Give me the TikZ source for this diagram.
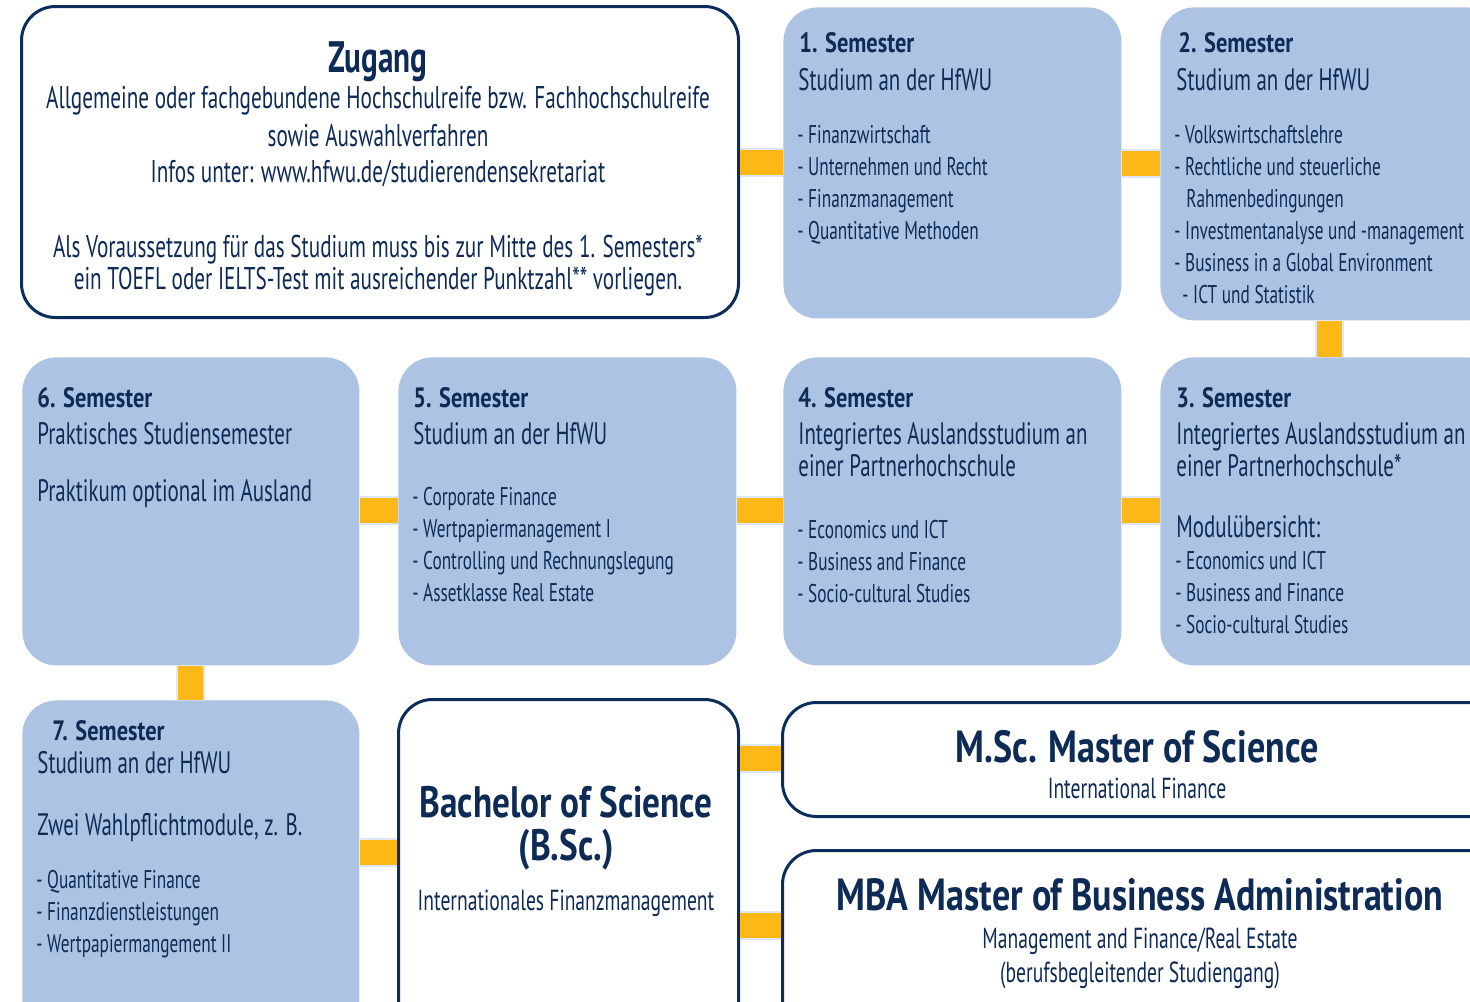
\documentclass[tikz,border=0pt]{standalone}
\usepackage{fontspec}
\newfontfamily\cf{PT Sans}[FakeStretch=0.675]
\newfontfamily\cfb{PT Sans Bold}[FakeStretch=0.80]
\newfontfamily\cfz{PT Sans Bold}[FakeStretch=0.71]
\definecolor{navy}{HTML}{0E2B56}
\definecolor{edge}{HTML}{0A2D5C}
\definecolor{boxfill}{HTML}{ADC3E3}
\definecolor{yel}{HTML}{FBB817}
\definecolor{halo}{HTML}{DCE6F4}
\tikzset{
  sbox/.style={anchor=north west, rounded corners=17pt, fill=boxfill, draw=none, inner sep=0pt},
  wbox/.style={anchor=north west, rounded corners=17pt, fill=white, draw=edge, line width=1.5pt, inner sep=0pt},
  conn/.style={draw=yel, line width=12.5pt, preaction={draw=halo, line width=14.5pt}},
  txt/.style={anchor=base west, inner sep=0pt, text=navy, font=\cf\fontsize{15.5}{18}\selectfont},
  ctxt/.style={txt, anchor=base},
  ztxt/.style={ctxt, font=\cf\fontsize{15.7}{18}\selectfont},
  stxt/.style={ctxt, font=\cf\fontsize{14.5}{17}\selectfont},
  ttl/.style={txt, font=\cfb\fontsize{14}{17}\selectfont},
  itm/.style={txt, font=\cf\fontsize{12.8}{16}\selectfont},
  big/.style={ctxt, font=\cfb\fontsize{22.5}{26}\selectfont},
}
\begin{document}
\begin{tikzpicture}[x=0.5pt,y=-0.5pt]
\useasboundingbox (0,0) rectangle (1470,1001);
% boxes
\node[wbox, minimum width=358.5pt, minimum height=155.5pt] (z) at (20,5) {};
\node[sbox, minimum width=169pt, minimum height=155.5pt] (s1) at (783,7) {};
\node[sbox, minimum width=170pt, minimum height=156.5pt] (s2) at (1160,7) {};
\node[sbox, minimum width=168.5pt, minimum height=154pt] (s6) at (22,357) {};
\node[sbox, minimum width=169pt, minimum height=154pt] (s5) at (398,357) {};
\node[sbox, minimum width=169pt, minimum height=154pt] (s4) at (783,357) {};
\node[sbox, minimum width=170pt, minimum height=154pt] (s3) at (1160,357) {};
\node[sbox, minimum width=168.5pt, minimum height=170pt] (s7) at (22,700) {};
\node[wbox, minimum width=170pt, minimum height=170pt] (b) at (397,698) {};
\node[wbox, minimum width=370pt, minimum height=57pt] (msc) at (781,701) {};
\node[wbox, minimum width=370pt, minimum height=100pt] (mba) at (781,849) {};
% connectors
\draw[conn] (z.east |- 0,162.5) -- (s1.west |- 0,162.5);
\draw[conn] (s1.east |- 0,163) -- (s2.west |- 0,163);
\draw[conn] (s2.south -| 1329,0) -- (s3.north -| 1329,0);
\draw[conn] (s6.east |- 0,510.5) -- (s5.west |- 0,510.5);
\draw[conn] (s5.east |- 0,510.5) -- (s4.west |- 0,510.5);
\draw[conn] (s4.east |- 0,510.5) -- (s3.west |- 0,510.5);
\draw[conn] (s6.south -| 190.5,0) -- (s7.north -| 190.5,0);
\draw[conn] (s7.east |- 0,852) -- (b.west |- 0,852);
\draw[conn] (b.east |- 0,758) -- (msc.west |- 0,758);
\draw[conn] (b.east |- 0,925.5) -- (mba.west |- 0,925.5);
% Zugang
\node[big, font=\cfz\fontsize{22}{26}\selectfont] (zt) at (378,72) {Zugang};
\node[ztxt] (z1) at (378,108) {Allgemeine oder fachgebundene Hochschulreife bzw. Fachhochschulreife};
\node[ztxt] (z2) at (378,146) {sowie Auswahlverfahren};
\node[ztxt] (z3) at (378,182) {Infos unter: www.hfwu.de/studierendensekretariat};
\node[ztxt] (z4) at (378,257) {Als Voraussetzung für das Studium muss bis zur Mitte des 1. Semesters*};
\node[ztxt] (z5) at (378,289) {ein TOEFL oder IELTS-Test mit ausreichender Punktzahl** vorliegen.};
% Semester 1
\node[ttl] (s1t) at (799,52) {1. Semester};
\node[txt] (s1s) at (798,90) {Studium an der HfWU};
\foreach \t [count=\i] in {Finanzwirtschaft, Unternehmen und Recht, Finanzmanagement, Quantitative Methoden}
  \node[itm] (s1i\i) at (797,{143+32*(\i-1)}) {- \t};
% Semester 2
\node[ttl] (s2t) at (1178,52) {2. Semester};
\node[txt] (s2s) at (1176,90) {Studium an der HfWU};
\node[itm] (s2i1) at (1174,143) {- Volkswirtschaftslehre};
\node[itm] (s2i2) at (1174,175) {- Rechtliche und steuerliche};
\node[itm] (s2i3) at (1186,207) {Rahmenbedingungen};
\node[itm] (s2i4) at (1174,239) {- Investmentanalyse und -management};
\node[itm] (s2i5) at (1174,271) {- Business in a Global Environment};
\node[itm] (s2i6) at (1182,303) {- ICT und Statistik};
% Semester 6
\node[ttl] (s6t) at (37,407) {6. Semester};
\node[txt] (s6s) at (37,444) {Praktisches Studiensemester};
\node[txt] (s6p) at (37,501) {Praktikum optional im Ausland};
% Semester 5
\node[ttl] (s5t) at (413,407) {5. Semester};
\node[txt] (s5s) at (413,444) {Studium an der HfWU};
\foreach \t [count=\i] in {Corporate Finance, Wertpapiermanagement I, Controlling und Rechnungslegung, Assetklasse Real Estate}
  \node[itm] (s5i\i) at (412,{505+32*(\i-1)}) {- \t};
% Semester 4
\node[ttl] (s4t) at (798,407) {4. Semester};
\node[txt] (s4s1) at (798,444) {Integriertes Auslandsstudium an};
\node[txt] (s4s2) at (798,476) {einer Partnerhochschule};
\foreach \t [count=\i] in {Economics und ICT, Business and Finance, Socio-cultural Studies}
  \node[itm] (s4i\i) at (797,{538+32*(\i-1)}) {- \t};
% Semester 3
\node[ttl] (s3t) at (1176,407) {3. Semester};
\node[txt] (s3s1) at (1176,444) {Integriertes Auslandsstudium an};
\node[txt] (s3s2) at (1176,476) {einer Partnerhochschule*};
\node[txt] (s3m) at (1176,537) {Modulübersicht:};
\foreach \t [count=\i] in {Economics und ICT, Business and Finance, Socio-cultural Studies}
  \node[itm] (s3i\i) at (1175,{569+32*(\i-1)}) {- \t};
% Semester 7
\node[ttl] (s7t) at (52,740) {7. Semester};
\node[txt] (s7s) at (37,773) {Studium an der HfWU};
\node[txt] (s7w) at (37,835) {Zwei Wahlpflichtmodule, z. B.};
\foreach \t [count=\i] in {Quantitative Finance, Finanzdienstleistungen, Wertpapiermangement II}
  \node[itm] (s7i\i) at (36,{888+32*(\i-1)}) {- \t};
% Bachelor
\node[big, font=\cfb\fontsize{22}{26}\selectfont] (bt1) at (566,817) {Bachelor of Science};
\node[big, font=\cfb\fontsize{22}{26}\selectfont] (bt2) at (566,860) {(B.Sc.)};
\node[stxt] (bs) at (566,910) {Internationales Finanzmanagement};
% Master
\node[big] (mt) at (1137,762) {M.Sc. Master of Science};
\node[stxt] (ms) at (1137,798) {International Finance};
\node[big] (mbat) at (1140,910) {MBA Master of Business Administration};
\node[stxt] (mbas1) at (1140,948) {Management and Finance/Real Estate};
\node[stxt] (mbas2) at (1140,982) {(berufsbegleitender Studiengang)};
\end{tikzpicture}
\end{document}
